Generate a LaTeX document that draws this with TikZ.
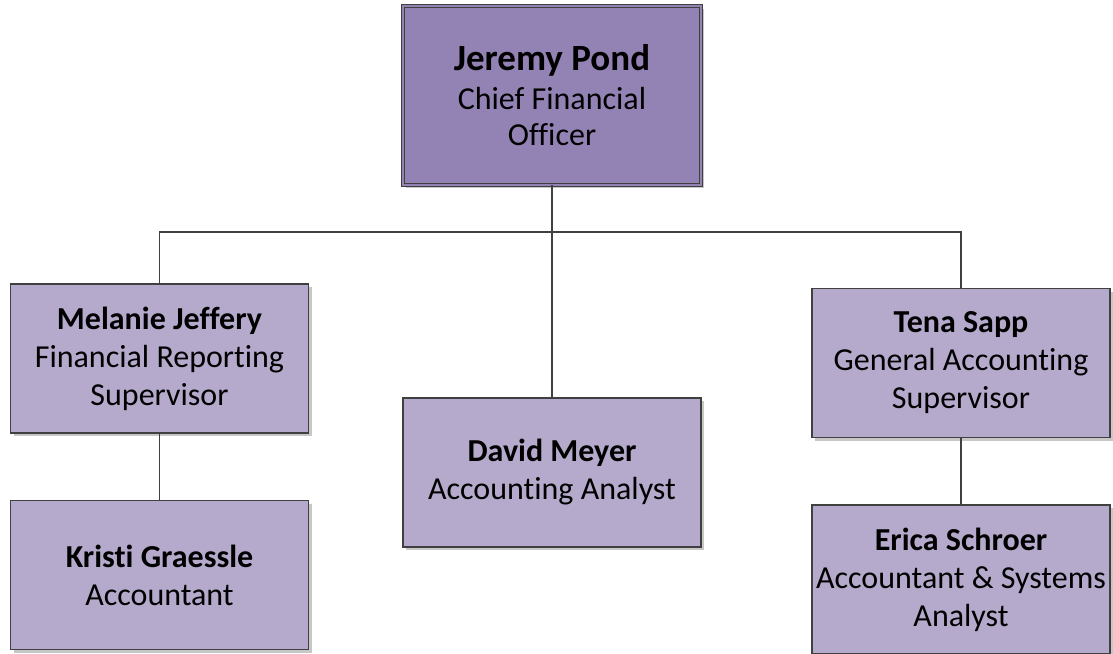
\documentclass[tikz,border=0pt]{standalone}
\usepackage{fontspec}
\setmainfont[Ligatures={NoCommon,NoContextual}]{Carlito}
\usetikzlibrary{shadows}
\definecolor{topfill}{HTML}{9383B4}
\definecolor{boxfill}{HTML}{B5AACC}
\definecolor{edge}{HTML}{404040}
\tikzset{
  person/.style={draw=edge, line width=1.2pt, fill=boxfill, minimum width=298pt, minimum height=149pt,
    inner sep=0pt, align=center, font=\fontsize{32}{38}\selectfont,
    drop shadow={shadow xshift=3pt, shadow yshift=-3pt, fill=black!22, opacity=1}},
  chief/.style={person, fill=topfill, minimum height=179pt, double=topfill, double distance=2.6pt, line width=0.9pt,
    font=\fontsize{32}{36}\selectfont},
  link/.style={draw=edge, line width=1.8pt},
}
\begin{document}
\begin{tikzpicture}[x=1pt,y=-1pt]
\useasboundingbox (0,0) rectangle (1113,653);
\fill[white] (0,0) rectangle (1113,653);
\node[chief] (jp) at (552,95.5) {{\fontsize{37}{42}\selectfont\bfseries Jeremy Pond}\\[3pt]Chief Financial\\Officer};
\node[person] (mj) at (159.5,358.5) {\bfseries Melanie Jeffery\\Financial Reporting\\Supervisor};
\node[person] (kg) at (159.5,575) {\bfseries Kristi Graessle\\Accountant};
\node[person] (dm) at (552,472.5) {\bfseries David Meyer\\Accounting Analyst};
\node[person] (ts) at (961,363) {\bfseries Tena Sapp\\General Accounting\\Supervisor};
\node[person] (es) at (961,579.5) {\bfseries Erica Schroer\\Accountant \& Systems\\Analyst};
\coordinate (bus) at (552,232);
\draw[link] (jp.south) -- (dm.north);
\draw[link] (mj.north) |- (bus) -| (ts.north);
\draw[link] (mj.south) -- (kg.north);
\draw[link] (ts.south) -- (es.north);
\end{tikzpicture}
\end{document}
